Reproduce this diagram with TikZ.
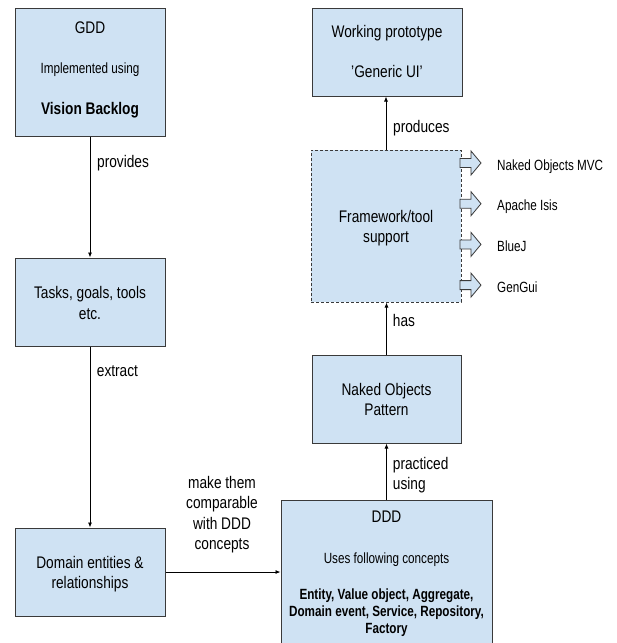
\documentclass[tikz,border=0pt]{standalone}
\usepackage{fontspec}
\setmainfont{Liberation Sans}[FakeStretch=0.815]
\newfontfamily\smallfont{Liberation Sans}[FakeStretch=0.79]
\usetikzlibrary{arrows.meta}
\definecolor{boxblue}{HTML}{CFE2F3}
\definecolor{boxline}{HTML}{3A3A3A}
\newcommand{\bigtxt}{\fontsize{16.8}{20.5}\selectfont}
\newcommand{\smalltxt}{\smallfont\fontsize{14.8}{17.3}\selectfont}
\begin{document}
\begin{tikzpicture}[x=1pt,y=-1pt,
  box/.style={draw=boxline, fill=boxblue, line width=1pt, inner sep=0pt, rectangle},
  dashbox/.style={box, dash pattern=on 3pt off 2pt},
  conn/.style={draw=black, line width=0.8pt, -{Latex[length=5pt,width=4pt]}},
  big/.style={anchor=base, inner sep=0pt, font=\bigtxt},
  bigb/.style={anchor=base, inner sep=0pt, font=\bigtxt\bfseries},
  small/.style={anchor=base, inner sep=0pt, font=\smalltxt},
  smallb/.style={anchor=base, inner sep=0pt, font=\smalltxt\bfseries},
  lbl/.style={anchor=base west, inner sep=0pt, font=\bigtxt},
  sidelbl/.style={anchor=base west, inner sep=0pt, font=\smalltxt},
  barrow/.pic={\draw[fill=boxblue, draw=boxline, line width=0.8pt, line join=miter]
     (0,-4.5) -- (11,-4.5) -- (11,-12) -- (21,0) -- (11,12) -- (11,4.5) -- (0,4.5) -- cycle;}
]
\clip (0,0) rectangle (617,643);
\fill[white] (0,0) rectangle (617,643);

% boxes
\node[box, minimum width=150, minimum height=128] (gdd) at (90,72) {};
\node[box, minimum width=150, minimum height=88] (tasks) at (90,302) {};
\node[box, minimum width=150, minimum height=88] (dom) at (90,572) {};
\node[box, minimum width=150, minimum height=88] (wp) at (387,52) {};
\node[dashbox, minimum width=150, minimum height=152] (fw) at (386,226) {};
\node[box, minimum width=149, minimum height=88] (naked) at (386.5,399) {};
\node[box, minimum width=211, minimum height=160] (ddd) at (386.5,580) {};

% block arrows
\pic (ba1) at (460,163) {barrow};
\pic (ba2) at (460,203.7) {barrow};
\pic (ba3) at (460,244.4) {barrow};
\pic (ba4) at (460,285.1) {barrow};

% box texts
\node[big] (t1) at (90,33) {GDD};
\node[small] (t2) at (90,73) {Implemented using};
\node[bigb] (t3) at (90,114) {Vision Backlog};
\node[big] (t4) at (90,298.3) {Tasks, goals, tools};
\node[big] (t5) at (90,319.3) {etc.};
\node[big] (t6) at (90,568.3) {Domain entities \&};
\node[big] (t7) at (90,588.8) {relationships};
\node[big] (t8) at (387,37.3) {Working prototype};
\node[big] (t9) at (387,77.3) {'Generic UI'};
\node[big] (t10) at (386,222.3) {Framework/tool};
\node[big] (t11) at (386,242.8) {support};
\node[big] (t12) at (386.5,395) {Naked Objects};
\node[big] (t13) at (386.5,415.5) {Pattern};
\node[big] (t14) at (386.5,522.7) {DDD};
\node[small] (t15) at (386.5,563.3) {Uses following concepts};
\node[smallb] (t16) at (386.5,599.3) {Entity, Value object, Aggregate,};
\node[smallb] (t17) at (386.5,616.6) {Domain event, Service, Repository,};
\node[smallb] (t18) at (386.5,633.9) {Factory};

% side labels
\node[sidelbl] (s1) at (497,170) {Naked Objects MVC};
\node[sidelbl] (s2) at (497,210.7) {Apache Isis};
\node[sidelbl] (s3) at (497,251.4) {BlueJ};
\node[sidelbl] (s4) at (497,292.1) {GenGui};

% connectors
\draw[conn] (gdd.south) -- (tasks.north);
\draw[conn] (tasks.south) -- (dom.north);
\draw[conn] (dom.east) -- (dom.east -| ddd.west);
\draw[conn] (ddd.north) -- (naked.south);
\draw[conn] (naked.north) -- (naked.north |- fw.south);
\draw[conn] (fw.north) -- (fw.north |- wp.south);

% connector labels
\node[lbl] (l1) at (97,167) {provides};
\node[lbl] (l2) at (96.7,376.7) {extract};
\node[lbl] (l3) at (393,132) {produces};
\node[lbl] (l4) at (392.7,326.7) {has};
\node[lbl] (l5) at (392.7,469.3) {practiced};
\node[lbl] (l6) at (392.7,489.3) {using};
\node[big] (m1) at (222,488.3) {make them};
\node[big] (m2) at (222,508.6) {comparable};
\node[big] (m3) at (222,529) {with DDD};
\node[big] (m4) at (222,549.4) {concepts};
\end{tikzpicture}
\end{document}
